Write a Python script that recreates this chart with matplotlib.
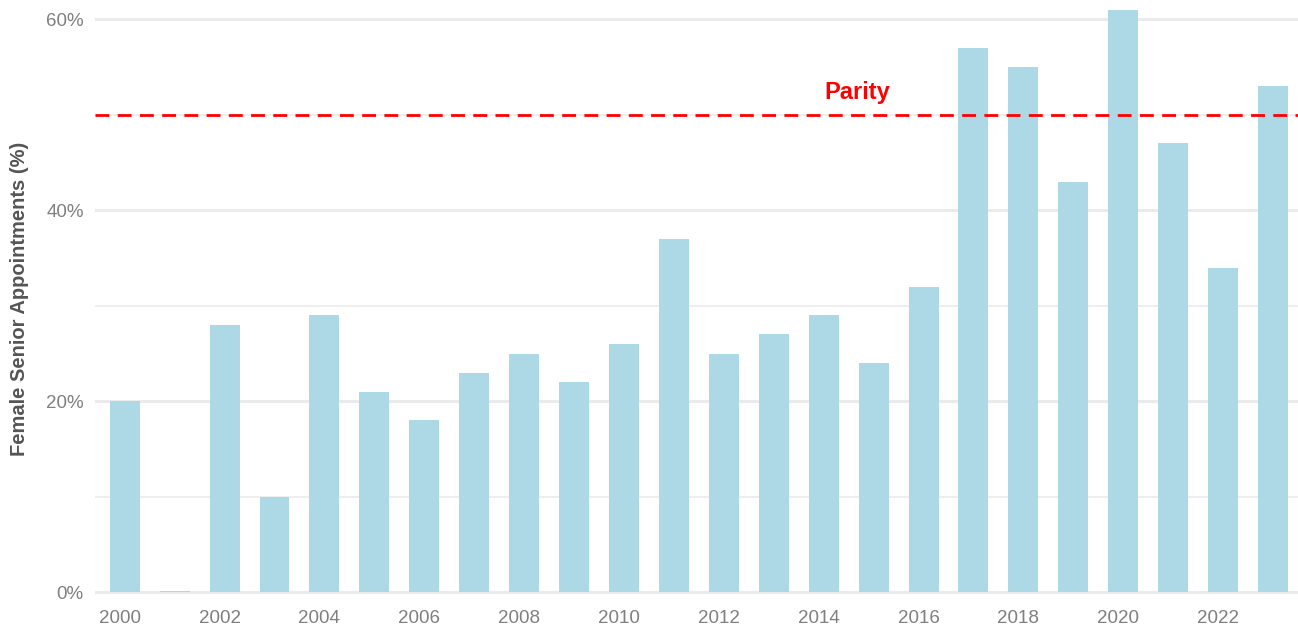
import matplotlib.pyplot as plt
from matplotlib.ticker import MultipleLocator, FuncFormatter
from matplotlib.transforms import ScaledTranslation

years = list(range(2000, 2024))
female_pct = [20, 0.1, 28, 10, 29, 21, 18, 23, 25, 22, 26, 37,
              25, 27, 29, 24, 32, 57, 55, 43, 61, 47, 34, 53]
parity = 50

plt.rcParams['font.family'] = ['Liberation Sans', 'DejaVu Sans']

fig = plt.figure(figsize=(12.98, 6.26), dpi=100)
ax = fig.add_axes([0.073, 0.046, 0.927, 0.954])

# grid first, bars on top
ax.set_axisbelow(True)
ax.yaxis.set_major_locator(MultipleLocator(20))
ax.yaxis.set_minor_locator(MultipleLocator(10))
ax.grid(axis='y', which='major', color='#ebebeb', linewidth=2.2)
ax.grid(axis='y', which='minor', color='#ebebeb', linewidth=1.2)

ax.bar(years, female_pct, width=0.6, color='#add8e6')

ax.axhline(parity, color='red', linestyle=(0, (5, 3)), linewidth=2, zorder=3)
ax.text(2014.67, parity + 2.3, 'Parity', color='red', fontsize=17,
        fontweight='bold', ha='center', va='center')

ax.set_xlim(1999.4, 2023.5)
ax.set_ylim(-0.5, 62)
ax.set_xticks(years[::2])
ax.yaxis.set_major_formatter(FuncFormatter(lambda v, p: f'{v:.0f}%'))
ax.tick_params(axis='both', which='both', length=0, labelsize=13.5,
               labelcolor='#7f7f7f')
ax.tick_params(axis='x', pad=9)
ax.tick_params(axis='y', pad=8)
# nudge year labels a little left, like the original
shift = ScaledTranslation(-5 / 100, 0, fig.dpi_scale_trans)
for lbl in ax.get_xticklabels():
    lbl.set_transform(lbl.get_transform() + shift)
ax.set_ylabel('Female Senior Appointments (%)', fontsize=14.5,
              fontweight='bold', color='#555555', labelpad=12)
for s in ax.spines.values():
    s.set_visible(False)

fig.savefig('out.png')
